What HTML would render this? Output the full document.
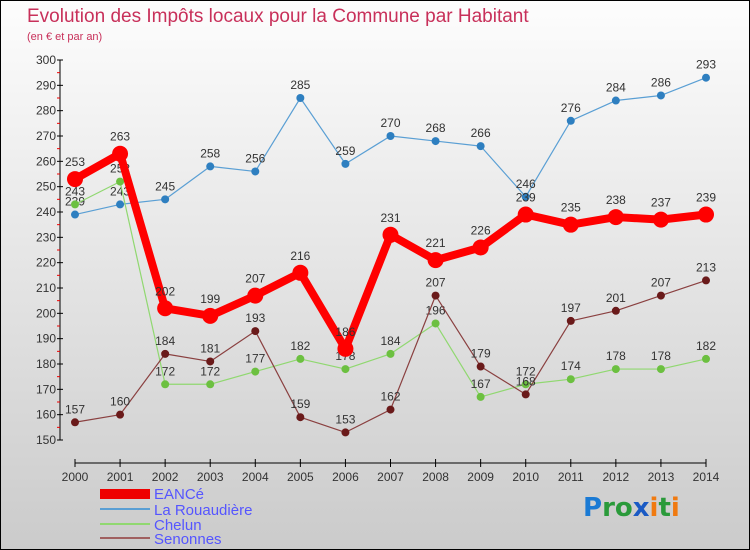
<!DOCTYPE html>
<html><head><meta charset="utf-8"><style>
body{margin:0}
svg{display:block;font-family:"Liberation Sans",sans-serif}
</style></head><body>
<svg width="750" height="550" viewBox="0 0 750 550">
<defs><linearGradient id="bg" x1="0" y1="0" x2="0" y2="1"><stop offset="0" stop-color="#fdfdfd"/><stop offset="1" stop-color="#cbcbcb"/></linearGradient></defs>
<rect x="0.5" y="0.5" width="749" height="549" fill="url(#bg)" stroke="#000"/>
<text x="27" y="22" font-size="19" fill="#c8305a">Evolution des Impôts locaux pour la Commune par Habitant</text>
<text x="27" y="40" font-size="11" fill="#c8305a">(en € et par an)</text>
<g id="axes"></g>
<g id="series"></g>
<g id="legend">
<rect x="100" y="489" width="50" height="10" fill="#e00"/>
<text x="154" y="499" font-size="15" fill="#5555ff">EANCé</text>
<line x1="100" y1="509" x2="150" y2="509" stroke="#5a9fd4" stroke-width="2"/>
<text x="154" y="515" font-size="15" fill="#5555ff">La Rouaudière</text>
<line x1="100" y1="524" x2="150" y2="524" stroke="#90d870" stroke-width="2"/>
<text x="154" y="530" font-size="15" fill="#5555ff">Chelun</text>
<line x1="100" y1="538" x2="150" y2="538" stroke="#a06060" stroke-width="2"/>
<text x="154" y="544" font-size="15" fill="#5555ff">Senonnes</text>
</g>
<g font-size="26" font-weight="bold" font-family="'DejaVu Sans',sans-serif">
<text x="583" y="516"><tspan fill="#1a7ad4">P</tspan><tspan fill="#2a9a3a">ro</tspan><tspan fill="#1a5ac4">x</tspan><tspan fill="#f07a10">i</tspan><tspan fill="#2a9a3a">t</tspan><tspan fill="#f07a10">i</tspan></text>
</g>
</svg>
<script>
const years=[2000,2001,2002,2003,2004,2005,2006,2007,2008,2009,2010,2011,2012,2013,2014];
const eance=[253,263,202,199,207,216,186,231,221,226,239,235,238,237,239];
const rouaudiere=[239,243,245,258,256,285,259,270,268,266,246,276,284,286,293];
const chelun=[243,252,172,172,177,182,178,184,196,167,172,174,178,178,182];
const senonnes=[157,160,184,181,193,159,153,162,207,179,168,197,201,207,213];
const yTicks=[150,160,170,180,190,200,210,220,230,240,250,260,270,280,290,300];
const NS="http://www.w3.org/2000/svg";
const x=i=>75+i*(706-75)/(years.length-1);
const y=v=>440-(v-150)*(380/150);
function mk(t,a,p){const e=document.createElementNS(NS,t);for(const k in a)e.setAttribute(k,a[k]);p.appendChild(e);return e;}
const ax=document.getElementById('axes');
const yl=mk('line',{x1:60,y1:y(300),x2:60,y2:y(150),stroke:'#000','stroke-width':1},ax);


yTicks.forEach(v=>{
 mk('line',{x1:57,y1:y(v),x2:63,y2:y(v),stroke:'#000'},ax);
 if(v<300)mk('line',{x1:57,y1:y(v+5),x2:60,y2:y(v+5),stroke:'#e00'},ax);
 const t=mk('text',{x:56,y:y(v)+4,'font-size':12,fill:'#333','text-anchor':'end'},ax);t.textContent=v;
 
 
});
const xl=mk('line',{x1:75,y1:463,x2:706,y2:463,stroke:'#000'},ax);


years.forEach((yr,i)=>{
 mk('line',{x1:x(i),y1:459,x2:x(i),y2:467,stroke:'#000'},ax);
 const t=mk('text',{x:x(i),y:481,'font-size':12,fill:'#333','text-anchor':'middle'},ax);t.textContent=yr;
 
 
});
const sg=document.getElementById('series');
function draw(data,color,dot,w,r,name){
 const g=mk('g',{},sg);
 
 
 mk('polyline',{points:data.map((v,i)=>x(i)+','+y(v)).join(' '),fill:'none',stroke:color,'stroke-width':w,'stroke-linejoin':'round'},g);
 data.forEach((v,i)=>{
  const c=mk('circle',{cx:x(i),cy:y(v),r:r,fill:dot},g);
  
  
  const t=mk('text',{x:x(i),y:y(v)-r-5,'font-size':12,fill:'#333','text-anchor':'middle'},g);t.textContent=v;
 });
}
draw(rouaudiere,'#5a9fd4','#2e7fc0',1.2,4,'rouaudiere');
draw(chelun,'#90d870','#6cc040',1.2,4,'chelun');
draw(senonnes,'#8a4040','#6a1a1a',1.2,4,'senonnes');
draw(eance,'#f00','#f00',8,8,'eance');
</script>
</body></html>
